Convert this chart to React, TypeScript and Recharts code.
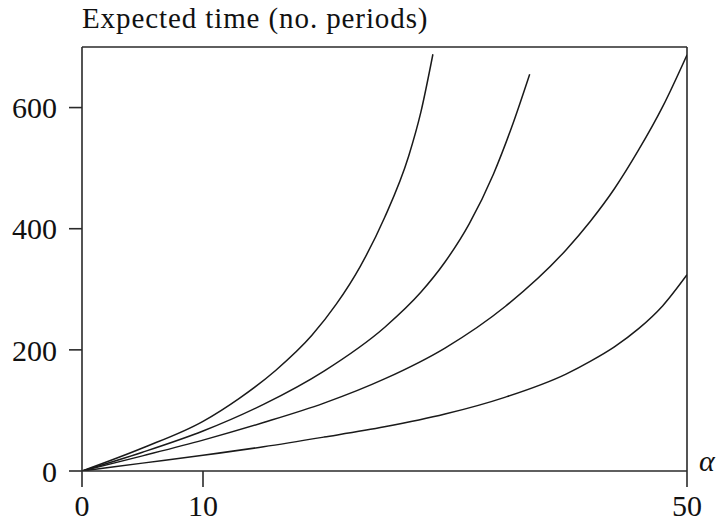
import React from "react";
import { LineChart, Line, XAxis, YAxis, ReferenceLine } from "recharts";

const alphaC1 = [0, 5, 10, 13, 16, 19, 21, 23, 25, 27, 28, 29];
const timeC1 = [0, 38, 82, 120, 166, 224, 275, 338, 418, 520, 592, 688];

const alphaC2 = [0, 5, 10, 15, 20, 25, 28, 30, 32, 34, 35.5, 37];
const timeC2 = [0, 31, 66, 110, 165, 237, 295, 345, 408, 490, 567, 655];

const alphaC3 = [0, 5, 10, 15, 20, 25, 30, 35, 40, 42, 44, 46, 48, 50];
const timeC3 = [0, 25, 51, 80, 112, 152, 203, 272, 365, 412, 466, 530, 602, 687];

const alphaC4 = [0, 5, 10, 15, 20, 25, 30, 35, 40, 42, 44, 46, 48, 50];
const timeC4 = [0, 13, 26, 40, 56, 73, 94, 122, 160, 181, 205, 235, 273, 324];

const xTicks = [0, 10, 50];
const yTicks = [0, 200, 400, 600];

const yLabel = "Expected time (no. periods)";
const xLabel = "α";

const toSeries = (xs: number[], ys: number[]) => xs.map((a, i) => ({ a, t: ys[i] }));

const series = [
  toSeries(alphaC1, timeC1),
  toSeries(alphaC2, timeC2),
  toSeries(alphaC3, timeC3),
  toSeries(alphaC4, timeC4),
];

const FONT = "'Liberation Serif', 'Times New Roman', serif";
const INK = "#1a1a1a";
const AXIS = "#2a2a2a";

export default function App() {
  return (
    <div style={{ position: "absolute", left: 0, top: 0, width: 721, height: 525, background: "#fff" }}>
      <LineChart
        width={721}
        height={525}
        margin={{ top: 47, right: 34, left: 0, bottom: 0 }}
      >
        <XAxis
          dataKey="a"
          type="number"
          domain={[0, 50]}
          ticks={xTicks}
          allowDataOverflow
          height={54}
          tickSize={16}
          tickMargin={8}
          stroke={AXIS}
          strokeWidth={1.6}
          tick={{ fontFamily: FONT, fontSize: 30, fill: "#111" }}
        />
        <YAxis
          type="number"
          domain={[0, 700]}
          ticks={yTicks}
          allowDataOverflow
          width={82}
          tickSize={13}
          tickMargin={12}
          stroke={AXIS}
          strokeWidth={1.6}
          tick={{ fontFamily: FONT, fontSize: 30, fill: "#111" }}
        />
        <ReferenceLine y={700} stroke={AXIS} strokeWidth={1.6} />
        <ReferenceLine x={50} stroke={AXIS} strokeWidth={1.6} />
        {series.map((d, i) => (
          <Line
            key={i}
            data={d}
            dataKey="t"
            type="monotone"
            stroke={INK}
            strokeWidth={1.5}
            dot={false}
            activeDot={false}
            isAnimationActive={false}
          />
        ))}
      </LineChart>
      <svg
        width={721}
        height={525}
        style={{ position: "absolute", left: 0, top: 0, pointerEvents: "none" }}
      >
        <text x={82} y={28} fontFamily={FONT} fontSize={29} letterSpacing={0.9} fill="#111">
          {yLabel}
        </text>
        <text x={699} y={471} fontFamily={FONT} fontSize={30} fontStyle="italic" fill="#111">
          {xLabel}
        </text>
      </svg>
    </div>
  );
}
